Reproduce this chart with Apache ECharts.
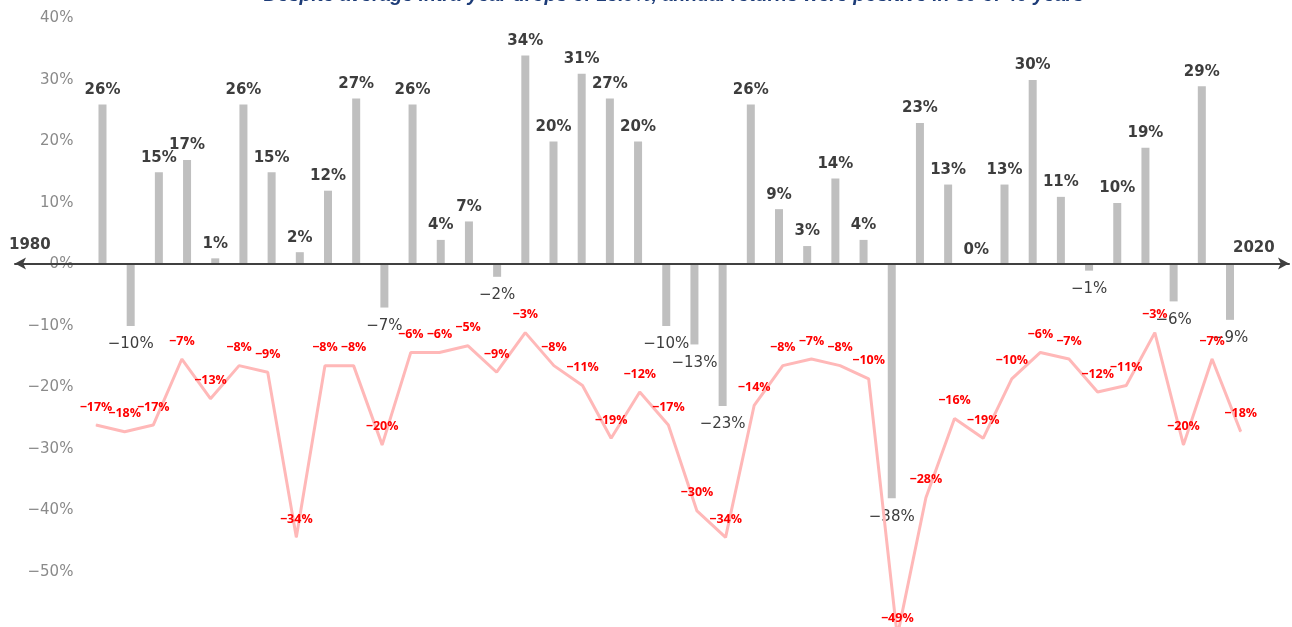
<!DOCTYPE html>
<html>
<head>
<meta charset="utf-8">
<script src="https://cdn.jsdelivr.net/npm/echarts@6/dist/echarts.min.js"></script>
<style>
html,body{margin:0;padding:0;background:#fff;}
#chart{width:1292px;height:627px;}
</style>
</head>
<body>
<div id="chart"></div>
<script>
const years = ['1980','1981','1982','1983','1984','1985','1986','1987','1988','1989','1990','1991','1992','1993','1994','1995','1996','1997','1998','1999','2000','2001','2002','2003','2004','2005','2006','2007','2008','2009','2010','2011','2012','2013','2014','2015','2016','2017','2018','2019','2020'];
const annualReturns = [26,-10,15,17,1,26,15,2,12,27,-7,26,4,7,-2,34,20,31,27,20,-10,-13,-23,26,9,3,14,4,-38,23,13,0,13,30,11,-1,10,19,-6,29,-9];
const intraYearDrops = [-17,-18,-17,-7,-13,-8,-9,-34,-8,-8,-20,-6,-6,-5,-9,-3,-8,-11,-19,-12,-17,-30,-34,-14,-8,-7,-8,-10,-49,-28,-16,-19,-10,-6,-7,-12,-11,-3,-20,-7,-18];
const yTicks = {min: -60, max: 40, interval: 10};
const titleText = 'Despite average intra-year drops of 13.9%, annual returns were positive in 30 of 40 years';

const pct = v => (v < 0 ? '\u2212' + Math.abs(v) : String(v)) + '%';
const FONT = '"DejaVu Sans", sans-serif';

const chart = echarts.init(document.getElementById('chart'), null, {renderer: 'canvas'});
chart.setOption({
  animation: false,
  backgroundColor: '#ffffff',
  graphic: [
    {type: 'text', x: 674, y: -14, style: {text: titleText, fill: '#1d3c78', font: 'italic bold 19.5px "Liberation Sans", Arial, sans-serif', textAlign: 'center', textVerticalAlign: 'top'}, z: 10},
    {type: 'text', left: 9, top: 238, style: {text: years[0], fill: '#404040', font: 'bold 15px ' + FONT}, z: 10},
    {type: 'text', left: 1233, top: 241, style: {text: years[years.length - 1], fill: '#404040', font: 'bold 15px ' + FONT}, z: 10}
  ],
  grid: [
    {left: 88.4, right: 47.9, top: 18.5, height: 615, containLabel: false, outerBoundsMode: 'none'},
    {left: 81.7, right: 37, top: 312.8, height: 330.2, containLabel: false, outerBoundsMode: 'none'},
    {left: 15, right: 3, top: 0, height: 263.5, containLabel: false, outerBoundsMode: 'none'}
  ],
  xAxis: [
    {type: 'category', gridIndex: 0, data: years, boundaryGap: true, axisLine: {show: false}, axisTick: {show: false}, axisLabel: {show: false}},
    {type: 'category', gridIndex: 1, data: years, boundaryGap: true, axisLine: {show: false}, axisTick: {show: false}, axisLabel: {show: false}},
    {type: 'value', gridIndex: 2, min: 0, max: 1, z: 6,
     axisLine: {show: true, symbol: ['arrow', 'arrow'], symbolSize: [9, 11], lineStyle: {color: '#404040', width: 2}},
     axisTick: {show: false}, axisLabel: {show: false}, splitLine: {show: false}}
  ],
  yAxis: [
    {type: 'value', gridIndex: 0, min: yTicks.min, max: yTicks.max, interval: yTicks.interval,
     axisLine: {show: false}, axisTick: {show: false}, splitLine: {show: false},
     axisLabel: {showMinLabel: false, margin: 15, color: '#8a8a8a', fontSize: 15, fontFamily: FONT, formatter: v => pct(v)}},
    {type: 'value', gridIndex: 1, min: -50, max: 0, show: false, splitLine: {show: false}},
    {type: 'value', gridIndex: 2, min: 0, max: 1, show: false, splitLine: {show: false}}
  ],
  series: [
    {type: 'bar', xAxisIndex: 0, yAxisIndex: 0, barWidth: 8, z: 2,
     itemStyle: {color: '#bfbfbf'},
     data: annualReturns.map(v => ({
       value: v,
       label: v >= 0
         ? {show: true, position: 'top', distance: 7, color: '#3d3d3d', fontSize: 15, fontWeight: 'bold', fontFamily: FONT, formatter: p => pct(p.value)}
         : {show: true, position: 'bottom', distance: 11, color: '#3d3d3d', fontSize: 15, fontWeight: 'normal', fontFamily: FONT, formatter: p => pct(p.value)}
     }))},
    {type: 'line', xAxisIndex: 1, yAxisIndex: 1, data: intraYearDrops, clip: false, z: 3,
     symbol: 'circle', symbolSize: 1, showSymbol: true, itemStyle: {color: '#ffb8b8'},
     lineStyle: {color: '#ffb8b8', width: 3},
     label: {show: true, position: 'top', distance: 11, color: '#ff0000', fontSize: 12.5, fontWeight: 'bold', fontFamily: '"Open Sans", sans-serif', formatter: p => pct(p.value)},
     labelLayout: {hideOverlap: false}}
  ]
});
</script>
</body>
</html>
